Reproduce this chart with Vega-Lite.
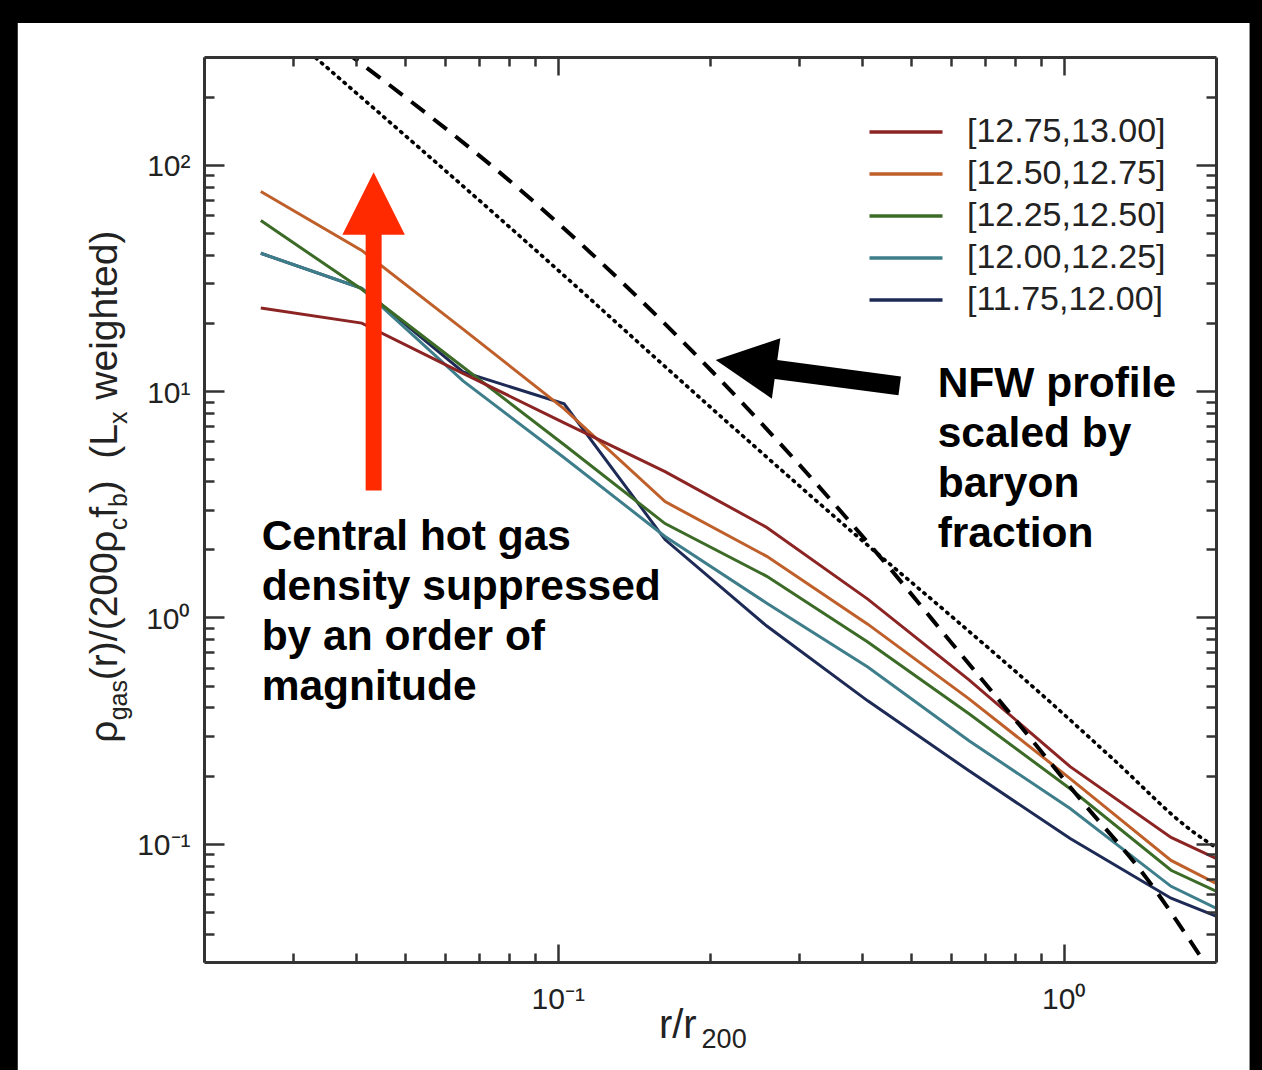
{
  "$schema": "https://vega.github.io/schema/vega-lite/v6.json",
  "width": 1012,
  "height": 905,
  "autosize": {"type": "none"},
  "padding": {"left": 204, "top": 57, "right": 46, "bottom": 108},
  "background": "black",
  "config": {"view": {"stroke": null}, "font": "Liberation Sans"},
  "resolve": {"axis": {"x": "independent", "y": "independent"}},
  "datasets": {
    "profiles": [
      {"bin": "[11.75,12.00]", "r": 0.0259, "rho": 40.7},
      {"bin": "[11.75,12.00]", "r": 0.041, "rho": 28.5},
      {"bin": "[11.75,12.00]", "r": 0.065, "rho": 12.16},
      {"bin": "[11.75,12.00]", "r": 0.103, "rho": 8.79},
      {"bin": "[11.75,12.00]", "r": 0.163, "rho": 2.21},
      {"bin": "[11.75,12.00]", "r": 0.259, "rho": 0.916},
      {"bin": "[11.75,12.00]", "r": 0.41, "rho": 0.428},
      {"bin": "[11.75,12.00]", "r": 0.65, "rho": 0.21},
      {"bin": "[11.75,12.00]", "r": 1.03, "rho": 0.1054},
      {"bin": "[11.75,12.00]", "r": 1.63, "rho": 0.0574},
      {"bin": "[11.75,12.00]", "r": 2.0, "rho": 0.0479},
      {"bin": "[12.00,12.25]", "r": 0.0259, "rho": 40.7},
      {"bin": "[12.00,12.25]", "r": 0.041, "rho": 28.5},
      {"bin": "[12.00,12.25]", "r": 0.065, "rho": 11.1},
      {"bin": "[12.00,12.25]", "r": 0.103, "rho": 5.08},
      {"bin": "[12.00,12.25]", "r": 0.163, "rho": 2.28},
      {"bin": "[12.00,12.25]", "r": 0.259, "rho": 1.156},
      {"bin": "[12.00,12.25]", "r": 0.41, "rho": 0.604},
      {"bin": "[12.00,12.25]", "r": 0.65, "rho": 0.285},
      {"bin": "[12.00,12.25]", "r": 1.03, "rho": 0.143},
      {"bin": "[12.00,12.25]", "r": 1.63, "rho": 0.0648},
      {"bin": "[12.00,12.25]", "r": 2.0, "rho": 0.0519},
      {"bin": "[12.25,12.50]", "r": 0.0259, "rho": 56.8},
      {"bin": "[12.25,12.50]", "r": 0.041, "rho": 28.2},
      {"bin": "[12.25,12.50]", "r": 0.065, "rho": 12.8},
      {"bin": "[12.25,12.50]", "r": 0.103, "rho": 5.8},
      {"bin": "[12.25,12.50]", "r": 0.163, "rho": 2.6},
      {"bin": "[12.25,12.50]", "r": 0.259, "rho": 1.52},
      {"bin": "[12.25,12.50]", "r": 0.41, "rho": 0.778},
      {"bin": "[12.25,12.50]", "r": 0.65, "rho": 0.375},
      {"bin": "[12.25,12.50]", "r": 1.03, "rho": 0.175},
      {"bin": "[12.25,12.50]", "r": 1.63, "rho": 0.0763},
      {"bin": "[12.25,12.50]", "r": 2.0, "rho": 0.0617},
      {"bin": "[12.50,12.75]", "r": 0.0259, "rho": 76.3},
      {"bin": "[12.50,12.75]", "r": 0.041, "rho": 41.9},
      {"bin": "[12.50,12.75]", "r": 0.065, "rho": 18.8},
      {"bin": "[12.50,12.75]", "r": 0.103, "rho": 8.36},
      {"bin": "[12.50,12.75]", "r": 0.163, "rho": 3.25},
      {"bin": "[12.50,12.75]", "r": 0.259, "rho": 1.862},
      {"bin": "[12.50,12.75]", "r": 0.41, "rho": 0.934},
      {"bin": "[12.50,12.75]", "r": 0.65, "rho": 0.4365},
      {"bin": "[12.50,12.75]", "r": 1.03, "rho": 0.194},
      {"bin": "[12.50,12.75]", "r": 1.63, "rho": 0.0844},
      {"bin": "[12.50,12.75]", "r": 2.0, "rho": 0.0668},
      {"bin": "[12.75,13.00]", "r": 0.0259, "rho": 23.3},
      {"bin": "[12.75,13.00]", "r": 0.041, "rho": 20.0},
      {"bin": "[12.75,13.00]", "r": 0.065, "rho": 12.0},
      {"bin": "[12.75,13.00]", "r": 0.103, "rho": 7.25},
      {"bin": "[12.75,13.00]", "r": 0.163, "rho": 4.41},
      {"bin": "[12.75,13.00]", "r": 0.259, "rho": 2.5},
      {"bin": "[12.75,13.00]", "r": 0.41, "rho": 1.205},
      {"bin": "[12.75,13.00]", "r": 0.65, "rho": 0.53},
      {"bin": "[12.75,13.00]", "r": 1.03, "rho": 0.219},
      {"bin": "[12.75,13.00]", "r": 1.63, "rho": 0.1066},
      {"bin": "[12.75,13.00]", "r": 2.0, "rho": 0.0861}
    ],
    "nfw_dashed": [
      {"r": 0.0379, "rho": 319},
      {"r": 0.0892, "rho": 69.6},
      {"r": 0.2024, "rho": 12.16},
      {"r": 0.4329, "rho": 1.862},
      {"r": 0.6144, "rho": 0.725},
      {"r": 0.8298, "rho": 0.322},
      {"r": 1.0755, "rho": 0.1583},
      {"r": 1.459, "rho": 0.0703},
      {"r": 1.9, "rho": 0.0297}
    ],
    "nfw_dotted": [
      {"r": 0.0316, "rho": 328.6},
      {"r": 0.0892, "rho": 43.2},
      {"r": 0.2062, "rho": 8.03},
      {"r": 0.408, "rho": 2.103},
      {"r": 0.5872, "rho": 1.055},
      {"r": 0.9256, "rho": 0.4365},
      {"r": 1.25, "rho": 0.2375},
      {"r": 1.798, "rho": 0.1133},
      {"r": 2.034, "rho": 0.0938}
    ],
    "notes": [
      {"label": "Central hot gas\ndensity suppressed\nby an order of\nmagnitude", "x": 0.026, "y": 1.979},
      {"label": "NFW profile\nscaled by\nbaryon\nfraction", "x": 0.5636, "y": 9.44}
    ],
    "ytitle_main": [
      {"t": "ρ", "y": 0.2794},
      {"t": "(r)/(200", "y": 0.5284},
      {"t": "ρ", "y": 1.932},
      {"t": "f", "y": 2.755},
      {"t": ")", "y": 3.539},
      {"t": "(L", "y": 5.03},
      {"t": "weighted)", "y": 9.176}
    ],
    "ytitle_sub": [
      {"t": "gas", "y": 0.351},
      {"t": "c", "y": 2.427},
      {"t": "b", "y": 3.074},
      {"t": "x", "y": 7.153}
    ],
    "xtitle_main": [{"t": "r/r", "x": 0.1585, "y": 0.01388}],
    "xtitle_sub": [{"t": "200", "x": 0.1925, "y": 0.01254}]
  },
  "layer": [
    {
      "data": {"values": [{"frame": 1}]},
      "mark": {"type": "rect", "color": "white"},
      "encoding": {
        "x": {"datum": 0.00857, "type": "quantitative", "scale": {"type": "log", "domain": [0.02, 2], "nice": false},
          "axis": {"orient": "bottom", "values": [0.1, 1], "tickSize": -18, "tickWidth": 2.5, "tickColor": "#333333", "domain": true, "domainColor": "#333333", "domainWidth": 3, "grid": false, "title": null,
            "labelExpr": "datum.value < 0.5 ? '10⁻¹' : '10⁰'", "labelFontSize": 30, "labelFont": "Liberation Sans", "labelColor": "#222222", "labelBaseline": "alphabetic", "labelPadding": 64, "labelFlush": false, "labelOverlap": false, "zindex": 1}},
        "x2": {"datum": 2.33},
        "y": {"datum": 423.6, "type": "quantitative", "scale": {"type": "log", "domain": [0.03, 300], "nice": false},
          "axis": {"orient": "left", "values": [0.1, 1, 10, 100], "tickSize": -20, "tickWidth": 2.5, "tickColor": "#333333", "domain": true, "domainColor": "#333333", "domainWidth": 3, "grid": false, "title": null,
            "labelExpr": "datum.value < 0.5 ? '10⁻¹' : datum.value < 5 ? '10⁰' : datum.value < 50 ? '10¹' : '10²'", "labelFontSize": 30, "labelFont": "Liberation Sans", "labelColor": "#222222", "labelAlign": "right", "labelBaseline": "alphabetic", "labelOffset": 11, "labelPadding": 34, "labelFlush": false, "labelOverlap": false, "zindex": 1}},
        "y2": {"datum": 0.004}
      }
    },
    {
      "data": {"name": "profiles"},
      "mark": {"type": "line", "strokeWidth": 3, "clip": true},
      "encoding": {
        "x": {"field": "r", "type": "quantitative", "scale": {"type": "log", "domain": [0.02, 2], "nice": false},
          "axis": {"orient": "bottom", "values": [0.02, 0.03, 0.04, 0.05, 0.06, 0.07, 0.08, 0.09, 0.2, 0.3, 0.4, 0.5, 0.6, 0.7, 0.8, 0.9], "tickSize": -9, "tickWidth": 2.5, "tickColor": "#333333", "domain": false, "labels": false, "grid": false, "title": null, "zindex": 1}},
        "y": {"field": "rho", "type": "quantitative", "scale": {"type": "log", "domain": [0.03, 300], "nice": false},
          "axis": {"orient": "left", "values": [0.04, 0.05, 0.06, 0.07, 0.08, 0.09, 0.2, 0.3, 0.4, 0.5, 0.6, 0.7, 0.8, 0.9, 2, 3, 4, 5, 6, 7, 8, 9, 20, 30, 40, 50, 60, 70, 80, 90, 200], "tickSize": -10, "tickWidth": 2.5, "tickColor": "#333333", "domain": false, "labels": false, "grid": false, "title": null, "zindex": 1}},
        "color": {"field": "bin", "type": "nominal",
          "scale": {"domain": ["[12.75,13.00]", "[12.50,12.75]", "[12.25,12.50]", "[12.00,12.25]", "[11.75,12.00]"], "range": ["#8c2424", "#bf5f2a", "#3c6b28", "#3e7e8b", "#1d2a55"]},
          "legend": {"orient": "none", "legendX": 685, "legendY": 58, "title": null, "symbolType": "M-2.5,0L2.5,0", "symbolSize": 853, "symbolStrokeWidth": 3.5, "labelFontSize": 34, "labelFont": "Liberation Sans", "labelColor": "#222222", "labelOffset": 44, "rowPadding": 8, "padding": 0, "zindex": 1, "labelLimit": 400}}
      }
    },
    {
      "data": {"name": "nfw_dashed"},
      "mark": {"type": "line", "color": "black", "strokeWidth": 4, "strokeDash": [17, 11], "interpolate": "monotone", "clip": true},
      "encoding": {
        "x": {"field": "r", "type": "quantitative", "scale": {"type": "log", "domain": [0.02, 2], "nice": false},
          "axis": {"orient": "top", "values": [0.1, 1], "tickSize": -18, "tickWidth": 2.5, "tickColor": "#333333", "domain": true, "domainColor": "#333333", "domainWidth": 3, "labels": false, "grid": false, "title": null, "zindex": 1}},
        "y": {"field": "rho", "type": "quantitative", "scale": {"type": "log", "domain": [0.03, 300], "nice": false},
          "axis": {"orient": "right", "values": [0.1, 1, 10, 100], "tickSize": -20, "tickWidth": 2.5, "tickColor": "#333333", "domain": true, "domainColor": "#333333", "domainWidth": 3, "labels": false, "grid": false, "title": null, "zindex": 1}}
      }
    },
    {
      "data": {"name": "nfw_dotted"},
      "mark": {"type": "line", "color": "black", "strokeWidth": 3.6, "strokeDash": [1.5, 6], "strokeCap": "round", "interpolate": "monotone", "clip": true},
      "encoding": {
        "x": {"field": "r", "type": "quantitative", "scale": {"type": "log", "domain": [0.02, 2], "nice": false},
          "axis": {"orient": "top", "values": [0.02, 0.03, 0.04, 0.05, 0.06, 0.07, 0.08, 0.09, 0.2, 0.3, 0.4, 0.5, 0.6, 0.7, 0.8, 0.9], "tickSize": -9, "tickWidth": 2.5, "tickColor": "#333333", "domain": false, "labels": false, "grid": false, "title": null, "zindex": 1}},
        "y": {"field": "rho", "type": "quantitative", "scale": {"type": "log", "domain": [0.03, 300], "nice": false},
          "axis": {"orient": "right", "values": [0.04, 0.05, 0.06, 0.07, 0.08, 0.09, 0.2, 0.3, 0.4, 0.5, 0.6, 0.7, 0.8, 0.9, 2, 3, 4, 5, 6, 7, 8, 9, 20, 30, 40, 50, 60, 70, 80, 90, 200], "tickSize": -10, "tickWidth": 2.5, "tickColor": "#333333", "domain": false, "labels": false, "grid": false, "title": null, "zindex": 1}}
      }
    },
    {
      "data": {"values": [{"arrow": "red"}]},
      "mark": {"type": "rule", "color": "#ff2a00", "strokeWidth": 16, "strokeCap": "butt"},
      "encoding": {
        "x": {"datum": 0.04328, "type": "quantitative", "scale": {"type": "log", "domain": [0.02, 2], "nice": false}, "axis": null},
        "y": {"datum": 3.64, "type": "quantitative", "scale": {"type": "log", "domain": [0.03, 300], "nice": false}, "axis": null},
        "y2": {"datum": 53}
      }
    },
    {
      "data": {"values": [{"arrow": "red"}]},
      "mark": {"type": "point", "shape": "M0,-1L1,1L-1,1Z", "size": 3900, "filled": true, "opacity": 1, "color": "#ff2a00", "strokeWidth": 0},
      "encoding": {
        "x": {"datum": 0.04328, "type": "quantitative", "scale": {"type": "log", "domain": [0.02, 2], "nice": false}, "axis": null},
        "y": {"datum": 67.5, "type": "quantitative", "scale": {"type": "log", "domain": [0.03, 300], "nice": false}, "axis": null}
      }
    },
    {
      "data": {"values": [{"arrow": "black"}]},
      "mark": {"type": "rule", "color": "black", "strokeWidth": 19, "strokeCap": "butt"},
      "encoding": {
        "x": {"datum": 0.4742, "type": "quantitative", "scale": {"type": "log", "domain": [0.02, 2], "nice": false}, "axis": null},
        "y": {"datum": 10.55, "type": "quantitative", "scale": {"type": "log", "domain": [0.03, 300], "nice": false}, "axis": null},
        "x2": {"datum": 0.2566},
        "y2": {"datum": 12.66}
      }
    },
    {
      "data": {"values": [{"arrow": "black"}]},
      "mark": {"type": "point", "shape": "M0,-1L1,1L-1,1Z", "size": 3721, "filled": true, "opacity": 1, "color": "black", "strokeWidth": 0, "angle": 278},
      "encoding": {
        "x": {"datum": 0.2355, "type": "quantitative", "scale": {"type": "log", "domain": [0.02, 2], "nice": false}, "axis": null},
        "y": {"datum": 13.16, "type": "quantitative", "scale": {"type": "log", "domain": [0.03, 300], "nice": false}, "axis": null}
      }
    },
    {
      "data": {"name": "notes"},
      "mark": {"type": "text", "align": "left", "baseline": "alphabetic", "fontSize": 42.5, "fontWeight": "bold", "font": "Liberation Sans", "color": "black", "lineBreak": "\n", "lineHeight": 50},
      "encoding": {
        "x": {"field": "x", "type": "quantitative", "scale": {"type": "log", "domain": [0.02, 2], "nice": false}, "axis": null},
        "y": {"field": "y", "type": "quantitative", "scale": {"type": "log", "domain": [0.03, 300], "nice": false}, "axis": null},
        "text": {"field": "label"}
      }
    },
    {
      "data": {"name": "ytitle_main"},
      "mark": {"type": "text", "align": "left", "baseline": "alphabetic", "angle": 270, "fontSize": 39, "font": "Liberation Sans", "color": "#222222"},
      "encoding": {
        "x": {"datum": 0.01344, "type": "quantitative", "scale": {"type": "log", "domain": [0.02, 2], "nice": false}, "axis": null},
        "y": {"field": "y", "type": "quantitative", "scale": {"type": "log", "domain": [0.03, 300], "nice": false}, "axis": null},
        "text": {"field": "t"}
      }
    },
    {
      "data": {"name": "ytitle_sub"},
      "mark": {"type": "text", "align": "left", "baseline": "alphabetic", "angle": 270, "fontSize": 25, "font": "Liberation Sans", "color": "#222222"},
      "encoding": {
        "x": {"datum": 0.01406, "type": "quantitative", "scale": {"type": "log", "domain": [0.02, 2], "nice": false}, "axis": null},
        "y": {"field": "y", "type": "quantitative", "scale": {"type": "log", "domain": [0.03, 300], "nice": false}, "axis": null},
        "text": {"field": "t"}
      }
    },
    {
      "data": {"name": "xtitle_main"},
      "mark": {"type": "text", "align": "left", "baseline": "alphabetic", "fontSize": 40, "font": "Liberation Sans", "color": "#222222"},
      "encoding": {
        "x": {"field": "x", "type": "quantitative", "scale": {"type": "log", "domain": [0.02, 2], "nice": false}, "axis": null},
        "y": {"field": "y", "type": "quantitative", "scale": {"type": "log", "domain": [0.03, 300], "nice": false}, "axis": null},
        "text": {"field": "t"}
      }
    },
    {
      "data": {"name": "xtitle_sub"},
      "mark": {"type": "text", "align": "left", "baseline": "alphabetic", "fontSize": 27, "font": "Liberation Sans", "color": "#222222"},
      "encoding": {
        "x": {"field": "x", "type": "quantitative", "scale": {"type": "log", "domain": [0.02, 2], "nice": false}, "axis": null},
        "y": {"field": "y", "type": "quantitative", "scale": {"type": "log", "domain": [0.03, 300], "nice": false}, "axis": null},
        "text": {"field": "t"}
      }
    }
  ]
}
